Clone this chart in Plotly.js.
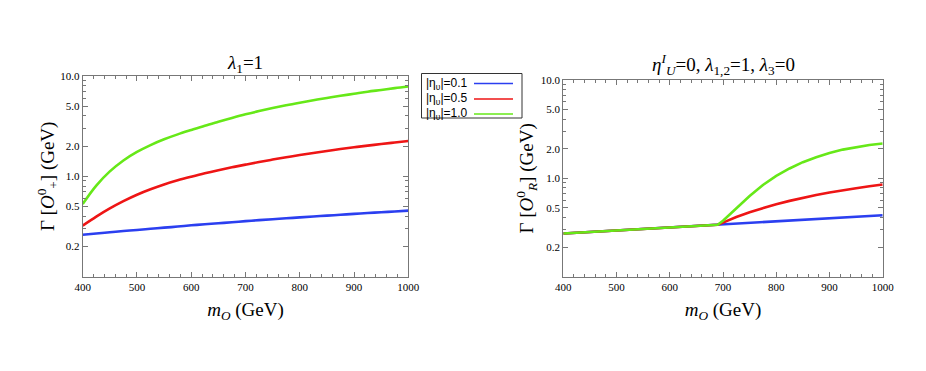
<!DOCTYPE html>
<html>
<head>
<meta charset="utf-8">
<script src="https://cdn.plot.ly/plotly-3.0.1.min.js"></script>
<style>
  body { margin: 0; background: white; }
  #grafica { width: 926px; height: 371px; }
</style>
</head>
<body>
<div id="grafica"></div>
<script>
// datos (paso de 25 GeV)
const mLeft = [400, 425, 450, 475, 500, 525, 550, 575, 600, 625, 650, 675, 700, 725, 750, 775, 800, 825, 850, 875, 900, 925, 950, 975, 1000];
const gammaPlus01 = [0.262, 0.269, 0.277, 0.285, 0.292, 0.300, 0.308, 0.316, 0.325, 0.333, 0.341, 0.349, 0.358, 0.366, 0.374, 0.382, 0.390, 0.398, 0.406, 0.414, 0.423, 0.431, 0.439, 0.447, 0.455];
const gammaPlus05 = [0.323, 0.397, 0.479, 0.566, 0.656, 0.743, 0.830, 0.912, 0.991, 1.072, 1.151, 1.230, 1.309, 1.390, 1.469, 1.549, 1.629, 1.710, 1.791, 1.871, 1.950, 2.023, 2.099, 2.173, 2.249];
const gammaPlus10 = [0.53, 0.809, 1.12, 1.44, 1.75, 2.05, 2.34, 2.62, 2.90, 3.20, 3.50, 3.82, 4.15, 4.47, 4.79, 5.11, 5.42, 5.73, 6.04, 6.35, 6.65, 6.97, 7.26, 7.57, 7.85];

const mRight = [400, 425, 450, 475, 500, 525, 550, 575, 600, 625, 650, 675, 690, 700, 725, 750, 775, 800, 825, 850, 875, 900, 925, 950, 975, 1000];
const gammaR01 = [0.275, 0.280, 0.285, 0.290, 0.295, 0.301, 0.306, 0.312, 0.317, 0.323, 0.329, 0.335, 0.338, 0.340, 0.346, 0.352, 0.359, 0.365, 0.372, 0.378, 0.385, 0.392, 0.399, 0.407, 0.414, 0.422];
const gammaR05 = [0.275, 0.280, 0.285, 0.290, 0.295, 0.301, 0.306, 0.312, 0.317, 0.323, 0.329, 0.335, 0.338, 0.355, 0.405, 0.453, 0.500, 0.546, 0.590, 0.634, 0.676, 0.718, 0.758, 0.794, 0.830, 0.865];
const gammaR10 = [0.275, 0.280, 0.285, 0.290, 0.295, 0.301, 0.306, 0.312, 0.317, 0.323, 0.329, 0.335, 0.338, 0.37, 0.490, 0.661, 0.855, 1.06, 1.26, 1.46, 1.64, 1.81, 1.96, 2.08, 2.18, 2.26];

const nombres = ["|η<sub>υ</sub>|=0.1", "|η<sub>υ</sub>|=0.5", "|η<sub>υ</sub>|=1.0"];
const colores = ["#2b3ff0", "#ee1515", "#66e818"];

const yTickVals = [0.2, 0.5, 1, 2, 5, 10];
const yTickText = ["0.2", "0.5", "1.0", "2.0", "5.0", "10.0"];
const yMinor = [0.3, 0.4, 0.6, 0.7, 0.8, 0.9, 3, 4, 6, 7, 8, 9];

const W = 926, H = 371;
const px = x => x / W;
const py = y => 1 - y / H;

const serif = "Liberation Serif";

const trazas = [];
const izq = [gammaPlus01, gammaPlus05, gammaPlus10];
const der = [gammaR01, gammaR05, gammaR10];
for (let i = 0; i < 3; i++) {
    trazas.push({
        x: mLeft, y: izq[i], xaxis: "x", yaxis: "y",
        mode: "lines", line: { color: colores[i], width: 2.6, shape: "spline", smoothing: 1 },
        showlegend: false, hoverinfo: "skip"
    });
}
for (let i = 0; i < 3; i++) {
    trazas.push({
        x: mRight, y: der[i], xaxis: "x2", yaxis: "y2",
        mode: "lines", line: { color: colores[i], width: 2.6 },
        showlegend: false, hoverinfo: "skip"
    });
}

function ejeX(dominio, ancla) {
    return {
        domain: dominio, anchor: ancla, range: [400, 1000],
        tickmode: "linear", tick0: 400, dtick: 100,
        ticks: "inside", ticklen: 5, tickcolor: "#777",
        minor: { ticks: "inside", ticklen: 3, dtick: 20, tick0: 400, tickcolor: "#777" },
        showline: true, linecolor: "#777", linewidth: 1, mirror: "allticks",
        showgrid: false, zeroline: false,
        tickfont: { family: serif, size: 11, color: "#000" },
        title: { text: "<i>m</i><sub><i>O</i></sub> (GeV)", font: { family: serif, size: 19, color: "#000" }, standoff: 10 }
    };
}

function ejeY(dominio, ancla, titulo, separacion) {
    return {
        domain: dominio, anchor: ancla, type: "log", range: [-1, 1],
        tickmode: "array", tickvals: yTickVals, ticktext: yTickText,
        ticks: "inside", ticklen: 5, tickcolor: "#777",
        minor: { ticks: "inside", ticklen: 3, tickmode: "array", tickvals: yMinor, tickcolor: "#777" },
        showline: true, linecolor: "#777", linewidth: 1, mirror: "allticks",
        showgrid: false, zeroline: false,
        tickfont: { family: serif, size: 11, color: "#000" },
        title: { text: titulo, font: { family: serif, size: 19, color: "#000" }, standoff: separacion }
    };
}

// leyenda hecha a mano (texto a la izquierda, linea a la derecha)
const shapes = [{
    type: "rect", xref: "paper", yref: "paper",
    x0: px(421.5), x1: px(522), y0: py(73.5), y1: py(118),
    line: { color: "#333", width: 1 }, fillcolor: "white"
}];
const annotations = [];
const filasY = [83.5, 99, 114];
for (let i = 0; i < 3; i++) {
    shapes.push({
        type: "line", xref: "paper", yref: "paper",
        x0: px(474), x1: px(513), y0: py(filasY[i]), y1: py(filasY[i]),
        line: { color: colores[i], width: 1.6 }
    });
    annotations.push({
        xref: "paper", yref: "paper", x: px(424), y: py(filasY[i]),
        xanchor: "left", yanchor: "middle", showarrow: false,
        text: nombres[i], font: { family: "Liberation Sans", size: 12, color: "#000" }
    });
}

// titulos de cada panel
annotations.push({
    xref: "paper", yref: "paper", x: px(245.5), y: py(64), xanchor: "center", yanchor: "middle",
    showarrow: false, text: "<i>λ</i><sub>1</sub>=1",
    font: { family: serif, size: 19, color: "#000" }
});
annotations.push({
    xref: "paper", yref: "paper", x: px(723), y: py(64), xanchor: "center", yanchor: "middle",
    showarrow: false, text: "<i>η</i><sup><i>I</i></sup><sub><i>U</i></sub>=0, <i>λ</i><sub>1,2</sub>=1, <i>λ</i><sub>3</sub>=0",
    font: { family: serif, size: 19, color: "#000" }
});

const layout = {
    width: W, height: H,
    margin: { l: 0, r: 0, t: 0, b: 0 },
    paper_bgcolor: "white", plot_bgcolor: "white",
    showlegend: false,
    xaxis: ejeX([px(82.7), px(408.3)], "y"),
    yaxis: ejeY([py(276.7), py(76)], "x", "Γ [<i>O</i><sup>0</sup><sub>+</sub>] (GeV)", 0),
    xaxis2: ejeX([px(563.3), px(882.7)], "y2"),
    yaxis2: ejeY([py(276.7), py(80)], "x2", "Γ [<i>O</i><sup>0</sup><sub><i>R</i></sub>] (GeV)", 2),
    shapes: shapes,
    annotations: annotations
};

Plotly.newPlot("grafica", trazas, layout, { displayModeBar: false });
</script>
</body>
</html>
